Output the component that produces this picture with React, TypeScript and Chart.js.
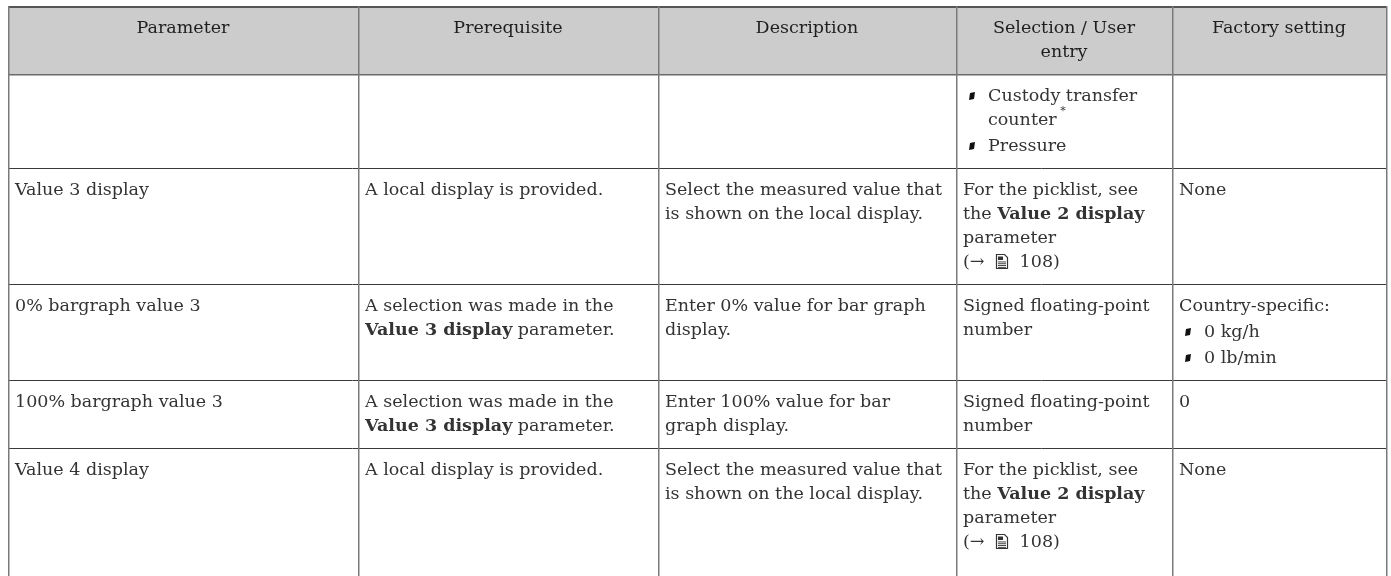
import React, { useEffect, useRef } from "react";
import { Chart, registerables } from "chart.js";

Chart.register(...registerables);

// ---------- data ----------
const columnTitles = ["Parameter", "Prerequisite", "Description", "Selection / User\nentry", "Factory setting"];

const parameters = ["", "Value 3 display", "0% bargraph value 3", "100% bargraph value 3", "Value 4 display"];

const prerequisites = [
  "",
  "A local display is provided.",
  "A selection was made in the\n**Value 3 display** parameter.",
  "A selection was made in the\n**Value 3 display** parameter.",
  "A local display is provided.",
];

const descriptions = [
  "",
  "Select the measured value that\nis shown on the local display.",
  "Enter 0% value for bar graph\ndisplay.",
  "Enter 100% value for bar\ngraph display.",
  "Select the measured value that\nis shown on the local display.",
];

const selections = [
  "- Custody transfer\n  counter^*\n- Pressure",
  "For the picklist, see\nthe **Value 2 display**\nparameter\n(→ {doc} 108)",
  "Signed floating-point\nnumber",
  "Signed floating-point\nnumber",
  "For the picklist, see\nthe **Value 2 display**\nparameter\n(→ {doc} 108)",
];

const factorySettings = ["", "None", "Country-specific:\n- 0 kg/h\n- 0 lb/min", "0", "None"];

// ---------- layout options ----------
const COL_WIDTHS = [350, 300, 298, 216, 214];
const FONT_FAMILY = '"DejaVu Serif", serif';
const FONT_SIZE = 17.5;
const LINE_H = 24;
const PAD_TOP = 10;
const PAD_BOTTOM = 10;
const PAD_X = 7;
const BULLET_INDENT = 25;
const ITEM_GAP = 2;
const TEXT_COLOR = "#333333";
const HEAD_COLOR = "#1e1e1e";
const VLINE_COLOR = "#7a7a7a";
const HLINE_COLOR = "#3a3a3a";
const HEAD_BG = "#cccccc";

type Seg = { text: string; bold?: boolean; sup?: boolean; icon?: boolean };
type Line = { segs: Seg[]; indent: boolean; bullet: boolean; gap: number };

function parseSegs(s: string): Seg[] {
  const out: Seg[] = [];
  const re = /(\*\*[^*]+\*\*|\{doc\}|\^\*)/g;
  let last = 0;
  let m: RegExpExecArray | null;
  while ((m = re.exec(s))) {
    if (m.index > last) out.push({ text: s.slice(last, m.index) });
    const t = m[0];
    if (t === "{doc}") out.push({ text: "", icon: true });
    else if (t === "^*") out.push({ text: " *", sup: true });
    else out.push({ text: t.slice(2, -2), bold: true });
    last = m.index + t.length;
  }
  if (last < s.length) out.push({ text: s.slice(last) });
  return out;
}

function parseCell(s: string): Line[] {
  if (!s) return [];
  return s.split("\n").map((raw, i) => {
    if (raw.startsWith("- ")) return { segs: parseSegs(raw.slice(2)), indent: true, bullet: true, gap: i > 0 ? ITEM_GAP : 0 };
    if (raw.startsWith("  ")) return { segs: parseSegs(raw.slice(2)), indent: true, bullet: false, gap: 0 };
    return { segs: parseSegs(raw), indent: false, bullet: false, gap: 0 };
  });
}

function cellHeight(lines: Line[]) {
  return lines.reduce((a, l) => a + LINE_H + l.gap, 0);
}

function fontFor(seg: Seg) {
  if (seg.sup) return `normal ${Math.round(FONT_SIZE * 0.65)}px ${FONT_FAMILY}`;
  return `${seg.bold ? "bold" : "normal"} ${FONT_SIZE}px ${FONT_FAMILY}`;
}

const ICON_ADV = 24;

function segWidth(ctx: CanvasRenderingContext2D, seg: Seg) {
  if (seg.icon) return ICON_ADV;
  ctx.font = fontFor(seg);
  return ctx.measureText(seg.text).width;
}

function drawDocIcon(ctx: CanvasRenderingContext2D, x: number, cy: number) {
  const w = 12, h = 15;
  const top = Math.round(cy - h / 2) - 1;
  x = Math.round(x);
  ctx.save();
  ctx.strokeStyle = TEXT_COLOR;
  ctx.fillStyle = TEXT_COLOR;
  ctx.lineWidth = 1.2;
  ctx.beginPath();
  ctx.moveTo(x + 0.5, top + 0.5);
  ctx.lineTo(x + w - 3.5, top + 0.5);
  ctx.lineTo(x + w - 0.5, top + 3.5);
  ctx.lineTo(x + w - 0.5, top + h - 0.5);
  ctx.lineTo(x + 0.5, top + h - 0.5);
  ctx.closePath();
  ctx.stroke();
  ctx.fillRect(x + 2, top + 2.5, 5, 3.5);
  for (let i = 0; i < 4; i++) ctx.fillRect(x + 2, top + 7.5 + i * 1.8, w - 4, 0.9);
  ctx.restore();
}

function drawLine(ctx: CanvasRenderingContext2D, line: Line, x: number, cy: number, head = false) {
  let cx = x;
  for (const seg of line.segs) {
    if (seg.icon) {
      drawDocIcon(ctx, cx + 6, cy);
      cx += ICON_ADV;
      continue;
    }
    ctx.font = fontFor(seg);
    ctx.fillStyle = head ? HEAD_COLOR : TEXT_COLOR;
    ctx.textBaseline = "middle";
    ctx.fillText(seg.text, cx, seg.sup ? cy - 9 : cy);
    cx += ctx.measureText(seg.text).width;
  }
}

const tablePlugin = {
  id: "tableDraw",
  afterDraw(chart: any) {
    const { ctx, scales } = chart;
    const xs = scales.x;
    const ys = scales.y;
    const colEdges: number[] = [0];
    COL_WIDTHS.forEach((w) => colEdges.push(colEdges[colEdges.length - 1] + w));
    const colPx = colEdges.map((v) => Math.round(xs.getPixelForValue(v)));

    const header = columnTitles.map((t) => parseCell(t));
    const body = parameters.map((_, r) =>
      [parameters[r], prerequisites[r], descriptions[r], selections[r], factorySettings[r]].map(parseCell)
    );
    const rows = [header, ...body];
    const rowEdges: number[] = [0];
    rows.forEach((cells) => {
      const h = PAD_TOP + Math.max(LINE_H, ...cells.map(cellHeight)) + PAD_BOTTOM;
      rowEdges.push(rowEdges[rowEdges.length - 1] + h);
    });
    const rowPx = rowEdges.map((v) => Math.round(ys.getPixelForValue(v)));
    const bottomPx = chart.chartArea.bottom;

    ctx.save();
    // header background
    ctx.fillStyle = HEAD_BG;
    ctx.fillRect(colPx[0], rowPx[0], colPx[colPx.length - 1] - colPx[0], rowPx[1] - rowPx[0]);

    // text
    rows.forEach((cells, r) => {
      cells.forEach((lines, c) => {
        const left = colPx[c];
        const right = colPx[c + 1];
        let y = rowPx[r] + PAD_TOP;
        lines.forEach((line) => {
          y += line.gap;
          const cy = y + LINE_H / 2;
          if (r === 0) {
            const w = line.segs.reduce((a, s) => a + segWidth(ctx, s), 0);
            drawLine(ctx, line, (left + right) / 2 - w / 2, cy, true);
          } else {
            const tx = left + PAD_X + (line.indent ? BULLET_INDENT : 0);
            if (line.bullet) {
              const bx = left + PAD_X + 6;
              ctx.fillStyle = "#111111";
              ctx.beginPath();
              ctx.moveTo(bx + 1, cy - 3);
              ctx.lineTo(bx + 6, cy - 4);
              ctx.lineTo(bx + 5, cy + 3);
              ctx.lineTo(bx, cy + 4);
              ctx.closePath();
              ctx.fill();
            }
            drawLine(ctx, line, tx, cy);
          }
          y += LINE_H;
        });
      });
    });

    // horizontal lines
    ctx.strokeStyle = HLINE_COLOR;
    ctx.lineWidth = 1;
    ctx.beginPath();
    rowPx.slice(1, -1).forEach((y) => {
      ctx.moveTo(colPx[0], y + 0.5);
      ctx.lineTo(colPx[colPx.length - 1], y + 0.5);
    });
    ctx.stroke();
    // header bottom slightly lighter/thicker
    ctx.strokeStyle = "#6a6a6a";
    ctx.lineWidth = 1.5;
    ctx.beginPath();
    ctx.moveTo(colPx[0], rowPx[1] + 0.75);
    ctx.lineTo(colPx[colPx.length - 1], rowPx[1] + 0.75);
    ctx.stroke();
    // top border
    ctx.strokeStyle = "#555555";
    ctx.lineWidth = 2;
    ctx.beginPath();
    ctx.moveTo(colPx[0], rowPx[0] + 1);
    ctx.lineTo(colPx[colPx.length - 1] + 1, rowPx[0] + 1);
    ctx.stroke();
    // vertical lines
    ctx.strokeStyle = VLINE_COLOR;
    ctx.lineWidth = 1.5;
    ctx.beginPath();
    colPx.forEach((x) => {
      ctx.moveTo(x + 0.75, rowPx[0]);
      ctx.lineTo(x + 0.75, bottomPx);
    });
    ctx.stroke();
    ctx.restore();
  },
};

export default function App() {
  const ref = useRef<HTMLCanvasElement>(null);
  useEffect(() => {
    if (!ref.current) return;
    const total = COL_WIDTHS.reduce((a, b) => a + b, 0);
    const chart = new Chart(ref.current, {
      type: "scatter",
      data: { datasets: [] },
      options: {
        animation: false,
        responsive: false,
        devicePixelRatio: 1,
        layout: { padding: { left: 8, top: 6, right: 5, bottom: 0 } },
        scales: {
          x: { type: "linear", min: 0, max: total, display: false },
          y: { type: "linear", min: 0, max: 570, reverse: true, display: false },
        },
        plugins: { legend: { display: false }, tooltip: { enabled: false } },
      },
      plugins: [tablePlugin],
    });
    return () => chart.destroy();
  }, []);
  return (
    <div style={{ position: "fixed", left: 0, top: 0, width: 1391, height: 576, background: "#fff" }}>
      <canvas ref={ref} width={1391} height={576} />
    </div>
  );
}
